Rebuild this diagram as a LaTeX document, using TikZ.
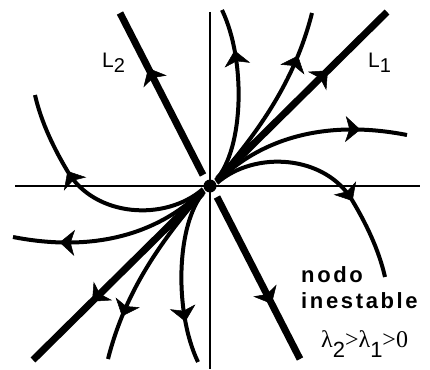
\documentclass[tikz,border=0pt]{standalone}
\usepackage{fontspec}
\setmainfont{Liberation Sans}
\newfontfamily\romfont{Liberation Serif}
\newfontfamily\spacedfont[LetterSpace=12]{Liberation Sans}
\usetikzlibrary{arrows.meta, decorations.markings}

\tikzset{
  eje/.style={line width=1.5pt},
  autovec/.style={line width=7pt},
  orbita/.style={line width=4pt},
  flecha/.style={postaction={decorate, decoration={markings,
      mark=at position #1 with {\arrow{Stealth[length=15pt, width=26pt, inset=4pt, line width=0.5pt]}}}}},
}

\begin{document}
\begin{tikzpicture}[x=1pt, y=-1pt, font=\fontsize{21}{26}\selectfont]
  \useasboundingbox (0,0) rectangle (430,369);
  \coordinate (O) at (210,186);
  % ejes
  \draw[eje] (15,186) -- (420,186);
  \draw[eje] (210,12) -- (210,369);
  % mitad superior derecha y su giro de 180 grados
  \foreach \giro in {0,180}{
    \begin{scope}[rotate around={\giro:(O)}]
      % rectas L1 y L2
      \draw[autovec, flecha=0.65] (218,179) -- (387,12);
      \draw[autovec, flecha=0.66] (203,175) -- (120,13);
      % trayectorias
      \draw[orbita, flecha=0.76] (216,180) .. controls (244,148) and (246,60) .. (222,10);
      \draw[orbita, flecha=0.77] (216,181) .. controls (260,130) and (295,80) .. (312,13);
      \draw[orbita, flecha=0.77] (217,182) .. controls (257,142) and (320,118) .. (407,135);
      \draw[orbita, flecha=0.65] (217,183) .. controls (255,150) and (325,155) .. (352,200)
        .. controls (370,230) and (380,255) .. (385,277);
    \end{scope}
  }
  \fill (O) circle (6.5);
  % textos
  \node[anchor=base west, inner sep=0] (Ldos) at (102,67) {L\raisebox{-5pt}{\fontsize{20}{20}\selectfont 2}};
  \node[anchor=base west, inner sep=0] (Luno) at (368,67) {L\raisebox{-5pt}{\fontsize{20}{20}\selectfont 1}};
  \node[anchor=base west, inner sep=0, align=left, font=\spacedfont\bfseries\fontsize{22}{26}\selectfont] (tipo) at (301,308) {nodo\\inestable};
  \node[anchor=base west, inner sep=0] (lambdas) at (321,347)
    {{\romfont\fontsize{24}{24}\selectfont λ}\raisebox{-10pt}{\fontsize{22}{22}\selectfont 2}{\romfont\fontsize{24}{24}\selectfont >λ}\raisebox{-10pt}{\fontsize{22}{22}\selectfont 1}{\romfont\fontsize{24}{24}\selectfont >0}};
\end{tikzpicture}
\end{document}
